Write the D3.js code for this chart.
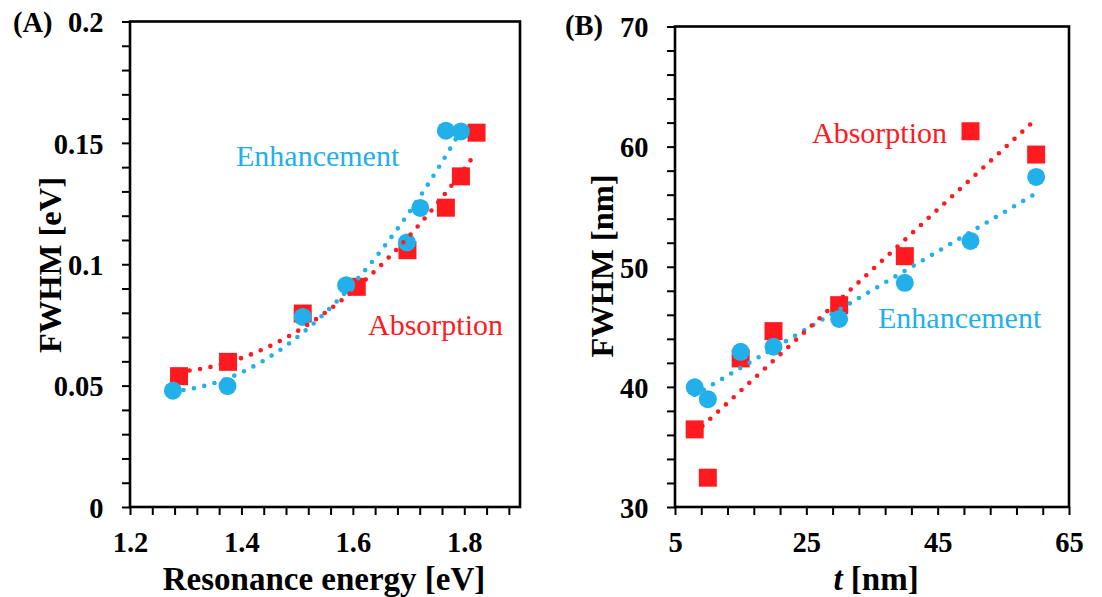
<!DOCTYPE html>
<html>
<head>
<meta charset="utf-8">
<script src="https://cdn.jsdelivr.net/npm/d3@7"></script>
<style>
  html, body { margin: 0; padding: 0; background: #fff; }
  svg { display: block; }
  text { font-family: "Liberation Serif", "Times New Roman", serif; }
</style>
</head>
<body>
<div id="chart"></div>
<script>
// Panel A: FWHM [eV] against resonance energy [eV]
const energyEnh = [1.277, 1.375, 1.510, 1.588, 1.697, 1.721, 1.767, 1.794];
const fwhmEnhEv = [0.0479, 0.0498, 0.0783, 0.0914, 0.1090, 0.1232, 0.1550, 0.1547];
const energyAbs = [1.288, 1.376, 1.510, 1.607, 1.698, 1.767, 1.794, 1.822];
const fwhmAbsEv = [0.0539, 0.0598, 0.0797, 0.0907, 0.1058, 0.1233, 0.1362, 0.1542];

// Panel B: FWHM [nm] against thickness t [nm]
const thickness = [8, 10, 15, 20, 30, 40, 50, 60];
const fwhmEnhNm = [39.96, 38.98, 42.92, 43.34, 45.66, 48.66, 52.15, 57.48];
const fwhmAbsNm = [36.46, 32.44, 42.37, 44.64, 46.80, 50.88, 61.28, 59.34];

// tick labels
const xLabelsA = [1.2, 1.4, 1.6, 1.8];
const yLabelsA = [0, 0.05, 0.1, 0.15, 0.2];
const xLabelsB = [5, 25, 45, 65];
const yLabelsB = [30, 40, 50, 60, 70];

const width = 1102, height = 597;
const red = "#ff1a1f", blue = "#22b0eb";
const serif = "'Liberation Serif', 'Times New Roman', serif";

const svg = d3.select("#chart").append("svg")
    .attr("width", width).attr("height", height)
    .style("font-family", serif);

// least squares polynomial fit (Excel style trendline)
function polyFit(xs, ys, deg) {
    const n = deg + 1;
    const A = Array.from({length: n}, () => new Array(n + 1).fill(0));
    xs.forEach((x, k) => {
        for (let i = 0; i < n; i++) {
            for (let j = 0; j < n; j++) A[i][j] += Math.pow(x, i + j);
            A[i][n] += ys[k] * Math.pow(x, i);
        }
    });
    for (let i = 0; i < n; i++) {
        let p = i;
        for (let r = i + 1; r < n; r++) if (Math.abs(A[r][i]) > Math.abs(A[p][i])) p = r;
        [A[i], A[p]] = [A[p], A[i]];
        for (let r = 0; r < n; r++) {
            if (r === i) continue;
            const f = A[r][i] / A[i][i];
            for (let c = i; c <= n; c++) A[r][c] -= f * A[i][c];
        }
    }
    const coef = A.map((row, i) => row[n] / row[i]);
    return x => coef.reduce((s, c, i) => s + c * Math.pow(x, i), 0);
}

function drawPanel(cfg) {
    const x = d3.scaleLinear().domain(cfg.xDomain).range(cfg.xRange);
    const y = d3.scaleLinear().domain(cfg.yDomain).range(cfg.yRange);
    const g = svg.append("g");

    const near = (v, arr) => arr.some(a => Math.abs(a - v) < 1e-9);

    // y axis
    const yTicks = d3.range(cfg.yDomain[0], cfg.yDomain[1] + cfg.yStep / 2, cfg.yStep);
    const yAxis = g.append("g")
        .attr("transform", `translate(${cfg.xRange[0]},0)`)
        .call(d3.axisLeft(y).tickValues(yTicks).tickSize(8).tickSizeOuter(0)
            .tickFormat(d => near(d, cfg.yLabels) ? cfg.yFmt(d) : ""));
    yAxis.select(".domain").remove();
    yAxis.attr("font-family", null);
    yAxis.selectAll("line").attr("stroke", "#000").attr("stroke-width", 2);
    yAxis.selectAll("text")
        .attr("x", -26.5).attr("dy", "0.36em")
        .style("font-family", serif).style("font-size", "28.5px")
        .style("font-weight", "bold").attr("fill", "#000");

    // x axis
    const xTicks = d3.range(cfg.xDomain[0], cfg.xDomain[1] + 1e-9, cfg.xStep)
        .filter(v => v <= cfg.xDomain[1] - cfg.xStep / 4 || cfg.xLastTick);
    const xAxis = g.append("g")
        .attr("transform", `translate(0,${cfg.yRange[0]})`)
        .call(d3.axisBottom(x).tickValues(xTicks).tickSize(8).tickSizeOuter(0)
            .tickFormat(d => near(d, cfg.xLabels) ? cfg.xFmt(d) : ""));
    xAxis.select(".domain").remove();
    xAxis.attr("font-family", null);
    xAxis.selectAll("line").attr("stroke", "#000").attr("stroke-width", 2);
    xAxis.selectAll("text")
        .attr("y", 45).attr("dy", null)
        .style("font-family", serif).style("font-size", "28.5px")
        .style("font-weight", "bold").attr("fill", "#000");

    // plot frame
    g.append("rect")
        .attr("x", cfg.xRange[0]).attr("y", cfg.yRange[1])
        .attr("width", cfg.xRange[1] - cfg.xRange[0])
        .attr("height", cfg.yRange[0] - cfg.yRange[1])
        .attr("fill", "none").attr("stroke", "#000").attr("stroke-width", 2.6);

    // markers: squares first, circles on top
    g.append("g").selectAll("rect")
        .data(cfg.absX.map((v, i) => [v, cfg.absY[i]]))
        .join("rect")
        .attr("x", d => x(d[0]) - 9).attr("y", d => y(d[1]) - 9)
        .attr("width", 18).attr("height", 18)
        .attr("fill", red);

    g.append("g").selectAll("circle")
        .data(cfg.enhX.map((v, i) => [v, cfg.enhY[i]]))
        .join("circle")
        .attr("cx", d => x(d[0])).attr("cy", d => y(d[1])).attr("r", 9)
        .attr("fill", blue);

    // dotted trendlines
    const line = d3.line().x(d => x(d[0])).y(d => y(d[1]));
    [[cfg.enhX, cfg.enhY, blue], [cfg.absX, cfg.absY, red]].forEach(([xs, ys, col]) => {
        const f = polyFit(xs, ys, cfg.fitDeg);
        const [x0, x1] = d3.extent(xs);
        const pts = d3.range(0, 101).map(i => {
            const xv = x0 + (x1 - x0) * i / 100;
            return [xv, f(xv)];
        });
        g.append("path")
            .attr("d", line(pts))
            .attr("fill", "none").attr("stroke", col)
            .attr("stroke-width", 4.6).attr("stroke-linecap", "round")
            .attr("stroke-dasharray", "0 10.6");
    });

    // annotations
    cfg.notes.forEach(n => {
        g.append("text")
            .attr("x", n.x).attr("y", n.y)
            .attr("fill", n.color)
            .style("font-family", serif)
            .style("font-size", "30px")
            .text(n.text);
    });

    // panel letter
    g.append("text")
        .attr("x", cfg.letter.x).attr("y", cfg.letter.y)
        .style("font-family", serif)
        .style("font-size", "28.5px").style("font-weight", "bold")
        .text(cfg.letter.text);

    // y title
    g.append("text")
        .attr("transform", `translate(${cfg.yTitle.x},${cfg.yTitle.y}) rotate(-90)`)
        .attr("text-anchor", "middle")
        .style("font-family", serif)
        .style("font-size", "32.5px").style("font-weight", "bold")
        .text(cfg.yTitle.text);

    // x title
    const xt = g.append("text")
        .attr("x", (cfg.xRange[0] + cfg.xRange[1]) / 2 + cfg.xTitleShift)
        .attr("y", 590)
        .attr("text-anchor", "middle")
        .style("font-family", serif)
        .style("font-size", "33px").style("font-weight", "bold");
    cfg.xTitle.forEach(p => xt.append("tspan")
        .style("font-style", p.italic ? "italic" : "normal").text(p.text));
}

drawPanel({
    xDomain: [1.2, 1.9], xRange: [130, 520],
    yDomain: [0, 0.2], yRange: [507, 21.5],
    xStep: 0.04, yStep: 0.01, xLastTick: false,
    xLabels: xLabelsA, yLabels: yLabelsA,
    xFmt: d => (+d.toFixed(1)).toString(),
    yFmt: d => (+d.toFixed(2)).toString(),
    enhX: energyEnh, enhY: fwhmEnhEv, absX: energyAbs, absY: fwhmAbsEv,
    fitDeg: 2,
    notes: [
        {text: "Enhancement", x: 236, y: 166, color: blue},
        {text: "Absorption", x: 368, y: 335, color: red}
    ],
    letter: {text: "(A)", x: 13, y: 32},
    yTitle: {text: "FWHM [eV]", x: 61, y: 265},
    xTitle: [{text: "Resonance energy [eV]"}],
    xTitleShift: -1
});

drawPanel({
    xDomain: [5, 65], xRange: [675, 1069],
    yDomain: [30, 70], yRange: [507, 26.5],
    xStep: 4, yStep: 2, xLastTick: true,
    xLabels: xLabelsB, yLabels: yLabelsB,
    xFmt: d => Math.round(d).toString(),
    yFmt: d => Math.round(d).toString(),
    enhX: thickness, enhY: fwhmEnhNm, absX: thickness, absY: fwhmAbsNm,
    fitDeg: 1,
    notes: [
        {text: "Absorption", x: 812, y: 143, color: red},
        {text: "Enhancement", x: 878, y: 328, color: blue}
    ],
    letter: {text: "(B)", x: 565, y: 35},
    yTitle: {text: "FWHM [nm]", x: 613, y: 266},
    xTitle: [{text: "t", italic: true}, {text: " [nm]"}],
    xTitleShift: 4
});
</script>
</body>
</html>
